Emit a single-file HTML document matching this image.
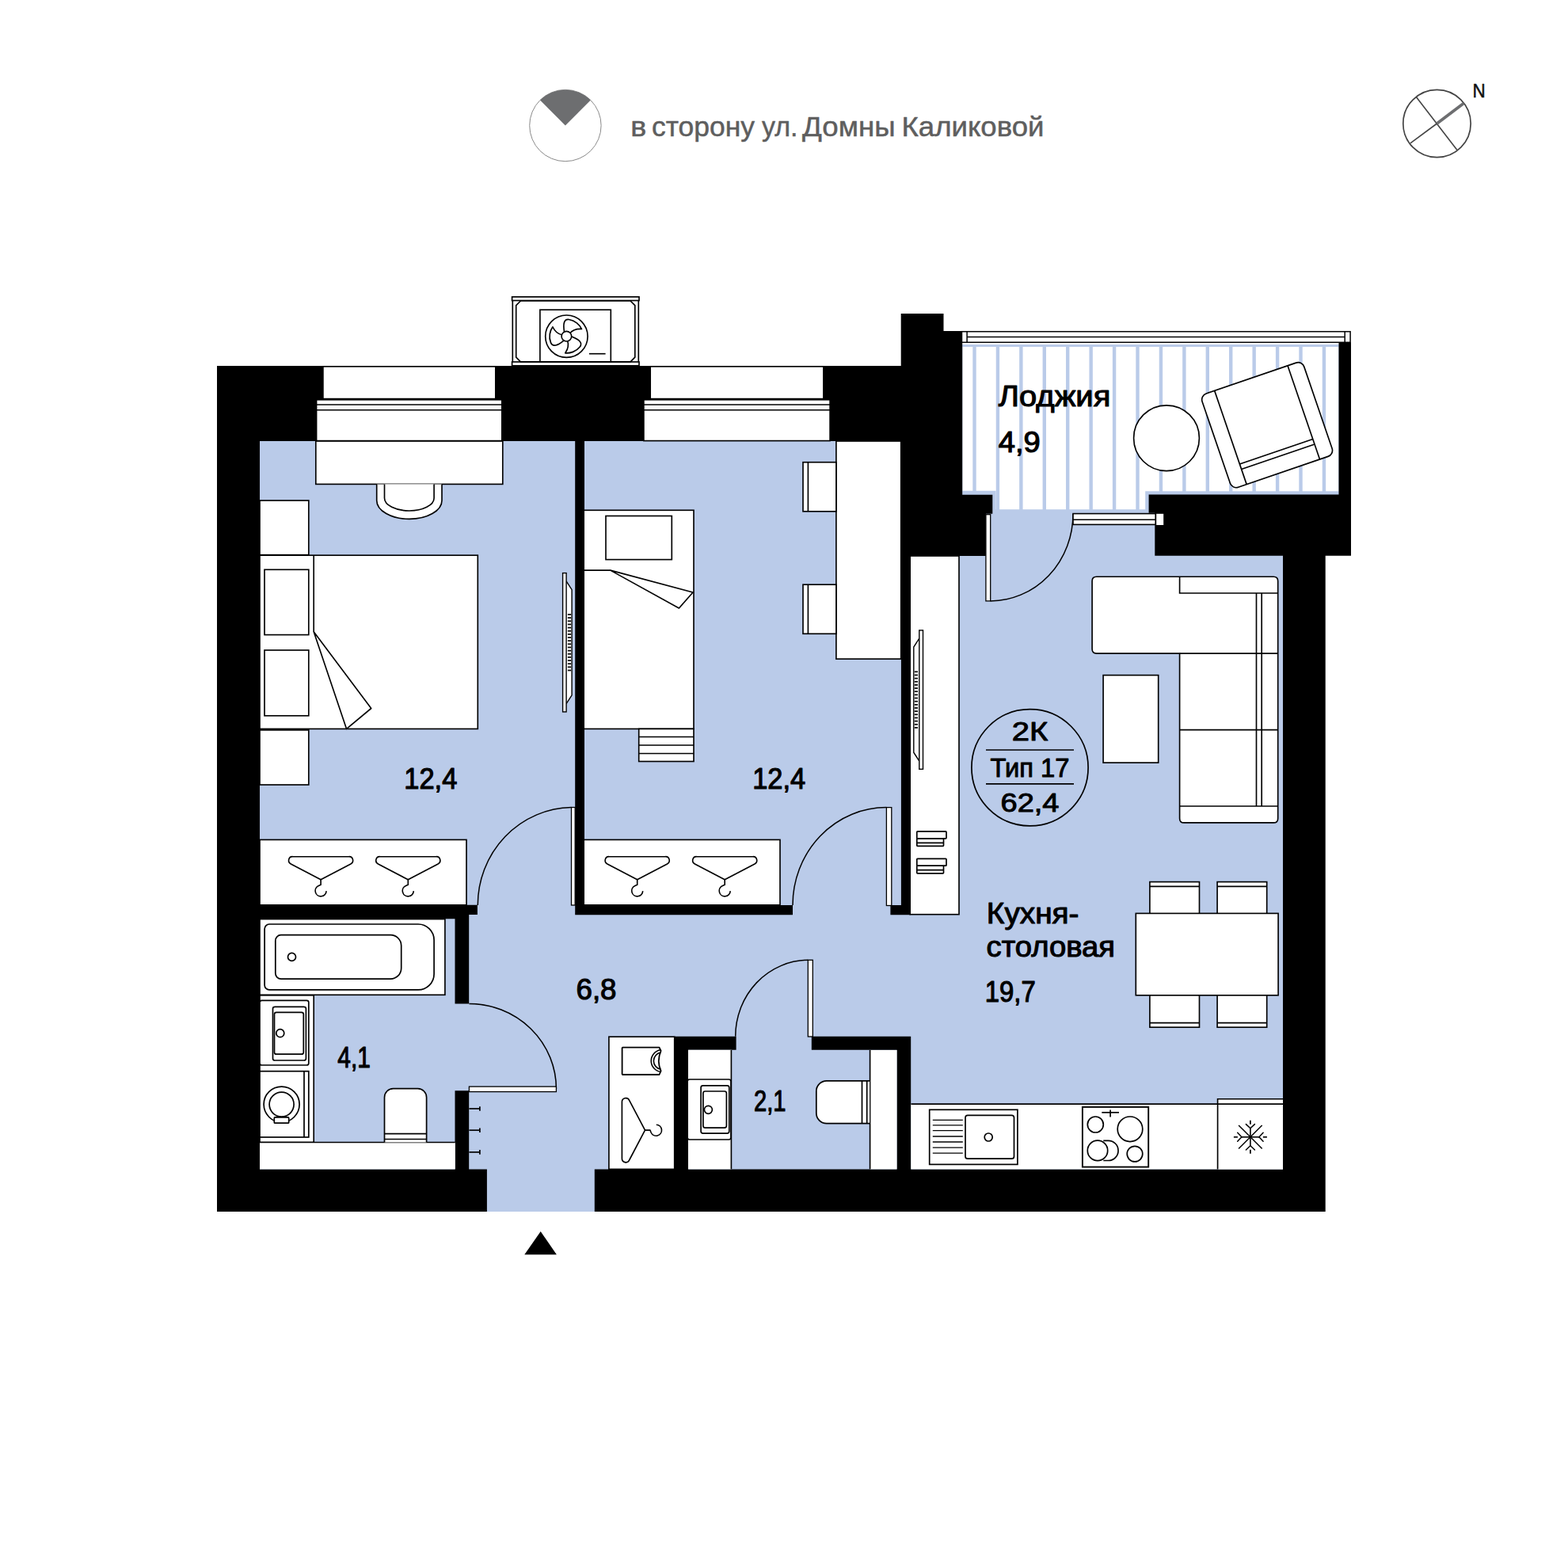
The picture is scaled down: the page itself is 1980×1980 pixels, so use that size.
<!DOCTYPE html>
<html lang="ru">
<head>
<meta charset="utf-8">
<title>Планировка 2К — Тип 17</title>
<style>
html,body{margin:0;padding:0;background:#fff;}
body{width:1980px;height:1980px;overflow:hidden;font-family:"Liberation Sans",sans-serif;}
svg{display:block;font-family:"Liberation Sans",sans-serif;}
</style>
</head>
<body>
<svg width="1980" height="1980" viewBox="0 0 1980 1980">
<!-- header: view direction -->
<circle cx="713.90" cy="158.50" r="45.20" fill="#fff" stroke="#8a8a8a" stroke-width="1"/>
<path d="M713.9,158.5 L682,126.6 A45.2,45.2 0 0 1 745.8,126.6 Z" fill="#6d6e70"/>
<text y="172.2" font-size="35" fill="#5e5e5e" stroke="#5e5e5e" stroke-width="0.5" stroke-linejoin="round" xml:space="preserve"><tspan x="796.2" textLength="20" lengthAdjust="spacingAndGlyphs">в</tspan><tspan x="816.2"> </tspan><tspan x="823" textLength="130" lengthAdjust="spacingAndGlyphs">сторону</tspan><tspan x="953"> </tspan><tspan x="962" textLength="45.5" lengthAdjust="spacingAndGlyphs">ул.</tspan><tspan x="1005"> </tspan><tspan x="1013" textLength="117.5" lengthAdjust="spacingAndGlyphs">Домны</tspan><tspan x="1131"> </tspan><tspan x="1138.5" textLength="180" lengthAdjust="spacingAndGlyphs">Каликовой</tspan></text>
<!-- compass -->
<circle cx="1814.50" cy="156.00" r="42.70" fill="#fff" stroke="#444" stroke-width="1.7"/>
<line x1="1788.60" y1="122.70" x2="1839.80" y2="189.30" stroke="#444" stroke-width="1.6"/>
<line x1="1780.90" y1="180.90" x2="1814.50" y2="156.00" stroke="#444" stroke-width="1.6"/>
<line x1="1814.50" y1="156.00" x2="1848.20" y2="130.50" stroke="#6d6e70" stroke-width="3.8"/>
<text x="1859.40" y="123.30" font-size="24" fill="#111" text-anchor="start" font-weight="normal" textLength="16.2" lengthAdjust="spacingAndGlyphs" stroke="#111" stroke-width="0.5" stroke-linejoin="round">N</text>
<!-- floor -->
<path d="M326,555 H1622 V1478 H753 V1530 H613 V1478 H326 Z" fill="#bacbe9"/>
<rect x="1245.00" y="640.00" width="215.00" height="65.00" fill="#bacbe9"/>
<!-- loggia -->
<path d="M1214,434.9 H1692 V626 H1452 V648.7 H1252 V626 H1214 Z" fill="#bacbe9"/>
<clipPath id="lg"><path d="M1215.2,437.9 H1690.5 V620.2 H1446.2 V643.2 H1257.6 V619.8 H1215.2 Z"/></clipPath>
<g clip-path="url(#lg)">
<rect x="1215.20" y="430.00" width="13.10" height="225.00" fill="#fff"/>
<rect x="1232.70" y="430.00" width="25.03" height="225.00" fill="#fff"/>
<rect x="1262.13" y="430.00" width="25.03" height="225.00" fill="#fff"/>
<rect x="1291.56" y="430.00" width="25.03" height="225.00" fill="#fff"/>
<rect x="1320.99" y="430.00" width="25.03" height="225.00" fill="#fff"/>
<rect x="1350.42" y="430.00" width="25.03" height="225.00" fill="#fff"/>
<rect x="1379.85" y="430.00" width="25.03" height="225.00" fill="#fff"/>
<rect x="1409.28" y="430.00" width="25.03" height="225.00" fill="#fff"/>
<rect x="1438.71" y="430.00" width="25.03" height="225.00" fill="#fff"/>
<rect x="1468.14" y="430.00" width="25.03" height="225.00" fill="#fff"/>
<rect x="1497.57" y="430.00" width="25.03" height="225.00" fill="#fff"/>
<rect x="1527.00" y="430.00" width="25.03" height="225.00" fill="#fff"/>
<rect x="1556.43" y="430.00" width="25.03" height="225.00" fill="#fff"/>
<rect x="1585.86" y="430.00" width="25.03" height="225.00" fill="#fff"/>
<rect x="1615.29" y="430.00" width="25.03" height="225.00" fill="#fff"/>
<rect x="1644.72" y="430.00" width="25.03" height="225.00" fill="#fff"/>
<rect x="1674.15" y="430.00" width="16.35" height="225.00" fill="#fff"/>
</g>
<!-- walls -->
<path d="M274.00,557.00 L274.00,1476.40 L274.00,1530.00 L328.00,1530.00 L614.90,1530.00 L614.90,1476.40 L592.20,1476.40 L592.20,1377.30 L574.50,1377.30 L574.50,1476.40 L328.00,1476.40 L328.00,1160.30 L574.50,1160.30 L574.50,1267.40 L592.20,1267.40 L592.20,1155.00 L591.70,1155.00 L591.70,1154.90 L602.90,1154.90 L602.90,1142.80 L591.70,1142.80 L328.00,1142.80 L328.00,557.00 L726.20,557.00 L726.20,1143.10 L726.20,1155.20 L738.00,1155.20 L1001.00,1155.20 L1001.00,1143.10 L738.00,1143.10 L738.00,557.00 L1137.70,557.00 L1137.70,702.00 L1137.90,702.00 L1137.90,1143.10 L1124.40,1143.10 L1124.40,1155.20 L1137.90,1155.20 L1149.80,1155.20 L1149.80,1143.10 L1149.80,702.00 L1215.00,702.00 L1215.20,702.00 L1244.90,702.00 L1244.90,648.80 L1253.30,648.80 L1253.30,624.80 L1215.20,624.80 L1215.20,418.00 L1191.50,418.00 L1191.50,396.00 L1137.70,396.00 L1137.70,418.00 L1137.70,420.00 L1137.70,462.00 L328.00,462.00 L274.00,462.00 Z  M851.80,1308.70 L851.80,1325.80 L851.80,1476.40 L750.80,1476.40 L750.80,1530.00 L1620.00,1530.00 L1673.70,1530.00 L1673.70,1476.40 L1673.70,701.80 L1690.50,701.80 L1706.00,701.80 L1706.00,624.50 L1706.00,432.30 L1690.50,432.30 L1690.50,624.50 L1450.60,624.50 L1450.60,647.80 L1458.30,647.80 L1458.30,701.80 L1620.00,701.80 L1620.00,1476.40 L1150.20,1476.40 L1150.20,1325.80 L1150.20,1308.70 L1132.50,1308.70 L1024.80,1308.70 L1024.80,1325.80 L1132.50,1325.80 L1132.50,1476.40 L869.20,1476.40 L869.20,1325.80 L929.60,1325.80 L929.60,1308.70 L869.20,1308.70 Z " fill="#000" fill-rule="evenodd"/>
<!-- windows -->
<rect x="407.90" y="462.80" width="217.90" height="40.80" fill="#fff" stroke="#000" stroke-width="1.65"/>
<rect x="399.60" y="504.80" width="234.20" height="51.80" fill="#fff" stroke="#000" stroke-width="1.65"/>
<line x1="399.60" y1="511.00" x2="633.80" y2="511.00" stroke="#000" stroke-width="1.65"/>
<line x1="399.60" y1="517.70" x2="633.80" y2="517.70" stroke="#000" stroke-width="1.65"/>
<rect x="821.20" y="462.80" width="218.70" height="40.80" fill="#fff" stroke="#000" stroke-width="1.65"/>
<rect x="812.90" y="504.80" width="235.20" height="51.80" fill="#fff" stroke="#000" stroke-width="1.65"/>
<line x1="812.90" y1="511.00" x2="1048.10" y2="511.00" stroke="#000" stroke-width="1.65"/>
<line x1="812.90" y1="517.70" x2="1048.10" y2="517.70" stroke="#000" stroke-width="1.65"/>
<!-- air conditioner -->
<rect x="647.30" y="374.90" width="159.00" height="86.60" fill="#fff" stroke="#000" stroke-width="1.65"/>
<rect x="646.60" y="374.90" width="160.40" height="4.60" fill="#fff" stroke="#000" stroke-width="1.65"/>
<rect x="646.60" y="457.00" width="160.40" height="4.80" fill="#fff" stroke="#000" stroke-width="1.65"/>
<path d="M657.4,380 H796.1 L801.8,385.7 V451.1 L796.1,456.8 H657.4 L651.7,451.1 V385.7 Z" fill="#fff" stroke="#000" stroke-width="1.65"/>
<rect x="681.90" y="391.20" width="89.40" height="65.60" fill="#fff" stroke="#000" stroke-width="1.65"/>
<circle cx="715.40" cy="424.70" r="26.70" fill="#fff" stroke="#000" stroke-width="1.65"/>
<path transform="rotate(0 715.4 424.7)" d="M712.5,419 C711,409 712,402.5 718.5,403.5 C726,404.5 732,410 734.5,415.5 C728,415 722.5,417.5 719.5,421" fill="none" stroke="#000" stroke-width="1.65" stroke-linejoin="round"/>
<path transform="rotate(120 715.4 424.7)" d="M712.5,419 C711,409 712,402.5 718.5,403.5 C726,404.5 732,410 734.5,415.5 C728,415 722.5,417.5 719.5,421" fill="none" stroke="#000" stroke-width="1.65" stroke-linejoin="round"/>
<path transform="rotate(240 715.4 424.7)" d="M712.5,419 C711,409 712,402.5 718.5,403.5 C726,404.5 732,410 734.5,415.5 C728,415 722.5,417.5 719.5,421" fill="none" stroke="#000" stroke-width="1.65" stroke-linejoin="round"/>
<circle cx="715.40" cy="424.70" r="6.30" fill="#fff" stroke="#000" stroke-width="1.65"/>
<line x1="743.90" y1="446.70" x2="764.60" y2="446.70" stroke="#000" stroke-width="1.65"/>
<!-- bedroom 1 -->
<rect x="398.80" y="557.00" width="236.00" height="54.40" fill="#fff" stroke="#000" stroke-width="1.65"/>
<path d="M475.7,611.4 V632 A41.1,23.4 0 0 0 558,632 V611.4" fill="#fff" stroke="#000" stroke-width="1.65"/>
<path d="M485.5,611.4 V629 A31.3,16 0 0 0 548.1,629 V611.4" fill="#fff" stroke="#000" stroke-width="1.65"/>
<rect x="328.00" y="632.00" width="61.80" height="68.70" fill="#fff" stroke="#000" stroke-width="1.65"/>
<rect x="328.00" y="701.20" width="275.30" height="219.20" fill="#fff" stroke="#000" stroke-width="1.65"/>
<rect x="334.00" y="719.30" width="55.80" height="82.30" fill="#fff" stroke="#000" stroke-width="1.65"/>
<rect x="334.00" y="821.00" width="55.80" height="82.80" fill="#fff" stroke="#000" stroke-width="1.65"/>
<line x1="396.20" y1="701.20" x2="396.20" y2="797.70" stroke="#000" stroke-width="1.65"/>
<path d="M396.2,797.7 L468.7,894.5 L437.6,920.4 Z" fill="#fff" stroke="#000" stroke-width="1.65" stroke-linejoin="round"/>
<rect x="328.00" y="921.90" width="61.80" height="69.10" fill="#fff" stroke="#000" stroke-width="1.65"/>
<path d="M715.1,733.9 L722.1,744.7 V877.8 L715.1,888.6" fill="#fff" stroke="#000" stroke-width="1.4"/>
<line x1="721.10" y1="776.00" x2="716.90" y2="776.00" stroke="#000" stroke-width="1.7"/>
<line x1="721.10" y1="780.15" x2="716.90" y2="780.15" stroke="#000" stroke-width="1.7"/>
<line x1="721.10" y1="784.29" x2="716.90" y2="784.29" stroke="#000" stroke-width="1.7"/>
<line x1="721.10" y1="788.44" x2="716.90" y2="788.44" stroke="#000" stroke-width="1.7"/>
<line x1="721.10" y1="792.59" x2="716.90" y2="792.59" stroke="#000" stroke-width="1.7"/>
<line x1="721.10" y1="796.74" x2="716.90" y2="796.74" stroke="#000" stroke-width="1.7"/>
<line x1="721.10" y1="800.88" x2="716.90" y2="800.88" stroke="#000" stroke-width="1.7"/>
<line x1="721.10" y1="805.03" x2="716.90" y2="805.03" stroke="#000" stroke-width="1.7"/>
<line x1="721.10" y1="809.18" x2="716.90" y2="809.18" stroke="#000" stroke-width="1.7"/>
<line x1="721.10" y1="813.32" x2="716.90" y2="813.32" stroke="#000" stroke-width="1.7"/>
<line x1="721.10" y1="817.47" x2="716.90" y2="817.47" stroke="#000" stroke-width="1.7"/>
<line x1="721.10" y1="821.62" x2="716.90" y2="821.62" stroke="#000" stroke-width="1.7"/>
<line x1="721.10" y1="825.76" x2="716.90" y2="825.76" stroke="#000" stroke-width="1.7"/>
<line x1="721.10" y1="829.91" x2="716.90" y2="829.91" stroke="#000" stroke-width="1.7"/>
<line x1="721.10" y1="834.06" x2="716.90" y2="834.06" stroke="#000" stroke-width="1.7"/>
<line x1="721.10" y1="838.21" x2="716.90" y2="838.21" stroke="#000" stroke-width="1.7"/>
<line x1="721.10" y1="842.35" x2="716.90" y2="842.35" stroke="#000" stroke-width="1.7"/>
<line x1="721.10" y1="846.50" x2="716.90" y2="846.50" stroke="#000" stroke-width="1.7"/>
<rect x="710.60" y="723.60" width="4.50" height="175.30" fill="#fff" stroke="#000" stroke-width="1.4"/>
<rect x="328.00" y="1060.40" width="261.00" height="82.40" fill="#fff" stroke="#000" stroke-width="1.65"/>
<g transform="translate(405.1 1110.8) rotate(0)" fill="none" stroke="#000" stroke-width="1.65" stroke-linejoin="round">
<path d="M0,0 L-37.8,-19.9 A4.84,4.84 0 0 1 -35.6,-29.1 H35.6 A4.84,4.84 0 0 1 37.8,-19.9 Z"/>
<path d="M0,0 V6.5 L-2.8,7.6 A7,7 0 1 0 7,14.3"/>
</g>
<g transform="translate(515.3 1110.8) rotate(0)" fill="none" stroke="#000" stroke-width="1.65" stroke-linejoin="round">
<path d="M0,0 L-37.8,-19.9 A4.84,4.84 0 0 1 -35.6,-29.1 H35.6 A4.84,4.84 0 0 1 37.8,-19.9 Z"/>
<path d="M0,0 V6.5 L-2.8,7.6 A7,7 0 1 0 7,14.3"/>
</g>
<path d="M603.3,1143 A120.5,123.5 0 0 1 721.5,1019.5" fill="none" stroke="#000" stroke-width="1.5"/>
<rect x="721.50" y="1019.50" width="4.70" height="123.50" fill="#fff" stroke="#000" stroke-width="1.3"/>
<text x="510.30" y="996.20" font-size="37" fill="#000" text-anchor="start" font-weight="normal" textLength="67" lengthAdjust="spacingAndGlyphs" stroke="#000" stroke-width="1.2" stroke-linejoin="round">12,4</text>
<!-- bedroom 2 -->
<rect x="737.20" y="644.30" width="138.80" height="276.10" fill="#fff" stroke="#000" stroke-width="1.65"/>
<rect x="765.00" y="651.50" width="83.30" height="55.10" fill="#fff" stroke="#000" stroke-width="1.65"/>
<line x1="737.20" y1="720.10" x2="770.70" y2="720.10" stroke="#000" stroke-width="1.65"/>
<path d="M770.7,720.1 L875,748 L857.4,768 Z" fill="#fff" stroke="#000" stroke-width="1.65" stroke-linejoin="round"/>
<rect x="806.70" y="920.40" width="69.30" height="41.10" fill="#fff" stroke="#000" stroke-width="1.65"/>
<line x1="806.70" y1="930.50" x2="876.00" y2="930.50" stroke="#000" stroke-width="1.65"/>
<line x1="806.70" y1="941.00" x2="876.00" y2="941.00" stroke="#000" stroke-width="1.65"/>
<line x1="806.70" y1="951.50" x2="876.00" y2="951.50" stroke="#000" stroke-width="1.65"/>
<rect x="1055.90" y="557.00" width="81.80" height="275.10" fill="#fff" stroke="#000" stroke-width="1.65"/>
<rect x="1014.00" y="583.70" width="41.90" height="62.10" fill="#fff" stroke="#000" stroke-width="1.65"/>
<line x1="1020.40" y1="583.70" x2="1020.40" y2="645.80" stroke="#000" stroke-width="1.65"/>
<rect x="1014.00" y="738.20" width="41.90" height="62.10" fill="#fff" stroke="#000" stroke-width="1.65"/>
<line x1="1020.40" y1="738.20" x2="1020.40" y2="800.30" stroke="#000" stroke-width="1.65"/>
<rect x="737.20" y="1060.40" width="247.80" height="82.40" fill="#fff" stroke="#000" stroke-width="1.65"/>
<g transform="translate(804.7 1110.8) rotate(0)" fill="none" stroke="#000" stroke-width="1.65" stroke-linejoin="round">
<path d="M0,0 L-37.8,-19.9 A4.84,4.84 0 0 1 -35.6,-29.1 H35.6 A4.84,4.84 0 0 1 37.8,-19.9 Z"/>
<path d="M0,0 V6.5 L-2.8,7.6 A7,7 0 1 0 7,14.3"/>
</g>
<g transform="translate(915.2 1110.8) rotate(0)" fill="none" stroke="#000" stroke-width="1.65" stroke-linejoin="round">
<path d="M0,0 L-37.8,-19.9 A4.84,4.84 0 0 1 -35.6,-29.1 H35.6 A4.84,4.84 0 0 1 37.8,-19.9 Z"/>
<path d="M0,0 V6.5 L-2.8,7.6 A7,7 0 1 0 7,14.3"/>
</g>
<path d="M1001,1143 A118.4,123.5 0 0 1 1119.4,1019.6" fill="none" stroke="#000" stroke-width="1.5"/>
<rect x="1119.40" y="1019.60" width="6.40" height="123.90" fill="#fff" stroke="#000" stroke-width="1.3"/>
<text x="950.20" y="996.20" font-size="37" fill="#000" text-anchor="start" font-weight="normal" textLength="67" lengthAdjust="spacingAndGlyphs" stroke="#000" stroke-width="1.2" stroke-linejoin="round">12,4</text>
<!-- kitchen-living -->
<rect x="1149.20" y="702.00" width="61.80" height="452.70" fill="#fff" stroke="#000" stroke-width="1.65"/>
<path d="M1160.8,806.1999999999999 L1153.8,817.0 V950.1999999999999 L1160.8,961.0" fill="#fff" stroke="#000" stroke-width="1.4"/>
<line x1="1154.80" y1="848.30" x2="1159.00" y2="848.30" stroke="#000" stroke-width="1.7"/>
<line x1="1154.80" y1="852.45" x2="1159.00" y2="852.45" stroke="#000" stroke-width="1.7"/>
<line x1="1154.80" y1="856.61" x2="1159.00" y2="856.61" stroke="#000" stroke-width="1.7"/>
<line x1="1154.80" y1="860.76" x2="1159.00" y2="860.76" stroke="#000" stroke-width="1.7"/>
<line x1="1154.80" y1="864.91" x2="1159.00" y2="864.91" stroke="#000" stroke-width="1.7"/>
<line x1="1154.80" y1="869.06" x2="1159.00" y2="869.06" stroke="#000" stroke-width="1.7"/>
<line x1="1154.80" y1="873.22" x2="1159.00" y2="873.22" stroke="#000" stroke-width="1.7"/>
<line x1="1154.80" y1="877.37" x2="1159.00" y2="877.37" stroke="#000" stroke-width="1.7"/>
<line x1="1154.80" y1="881.52" x2="1159.00" y2="881.52" stroke="#000" stroke-width="1.7"/>
<line x1="1154.80" y1="885.68" x2="1159.00" y2="885.68" stroke="#000" stroke-width="1.7"/>
<line x1="1154.80" y1="889.83" x2="1159.00" y2="889.83" stroke="#000" stroke-width="1.7"/>
<line x1="1154.80" y1="893.98" x2="1159.00" y2="893.98" stroke="#000" stroke-width="1.7"/>
<line x1="1154.80" y1="898.14" x2="1159.00" y2="898.14" stroke="#000" stroke-width="1.7"/>
<line x1="1154.80" y1="902.29" x2="1159.00" y2="902.29" stroke="#000" stroke-width="1.7"/>
<line x1="1154.80" y1="906.44" x2="1159.00" y2="906.44" stroke="#000" stroke-width="1.7"/>
<line x1="1154.80" y1="910.59" x2="1159.00" y2="910.59" stroke="#000" stroke-width="1.7"/>
<line x1="1154.80" y1="914.75" x2="1159.00" y2="914.75" stroke="#000" stroke-width="1.7"/>
<line x1="1154.80" y1="918.90" x2="1159.00" y2="918.90" stroke="#000" stroke-width="1.7"/>
<rect x="1160.80" y="795.90" width="4.70" height="175.40" fill="#fff" stroke="#000" stroke-width="1.4"/>
<rect x="1157.80" y="1058.70" width="33.70" height="9.70" rx="0.8" fill="#fff" stroke="#000" stroke-width="1.7"/>
<line x1="1157.80" y1="1064.30" x2="1191.50" y2="1064.30" stroke="#000" stroke-width="1.7"/>
<rect x="1157.80" y="1049.90" width="37.20" height="8.90" rx="0.8" fill="#fff" stroke="#000" stroke-width="1.7"/>
<rect x="1157.80" y="1093.10" width="33.70" height="9.70" rx="0.8" fill="#fff" stroke="#000" stroke-width="1.7"/>
<line x1="1157.80" y1="1098.70" x2="1191.50" y2="1098.70" stroke="#000" stroke-width="1.7"/>
<rect x="1157.80" y="1084.30" width="37.20" height="8.90" rx="0.8" fill="#fff" stroke="#000" stroke-width="1.7"/>
<path d="M1250.5,758.9 A104.5,110 0 0 0 1355,648.9" fill="none" stroke="#000" stroke-width="1.5"/>
<rect x="1244.90" y="649.70" width="5.80" height="109.20" fill="#fff" stroke="#000" stroke-width="1.3"/>
<rect x="1355.00" y="648.60" width="104.20" height="13.80" fill="#fff" stroke="#000" stroke-width="1.6"/>
<line x1="1355.00" y1="656.20" x2="1459.20" y2="656.20" stroke="#000" stroke-width="1.6"/>
<rect x="1460.20" y="648.80" width="9.00" height="14.20" fill="#fff"/>
<path d="M1384.6,728.2 H1608.2 Q1613.7,728.2 1613.7,733.7 V1033.4 Q1613.7,1038.9 1608.2,1038.9 H1495.1 Q1489.6,1038.9 1489.6,1033.4 V825.1 H1384.6 Q1379.1,825.1 1379.1,819.6 V733.7 Q1379.1,728.2 1384.6,728.2 Z" fill="#fff" stroke="#000" stroke-width="1.65"/>
<path d="M1489.6,728.2 V749 H1613.7" fill="none" stroke="#000" stroke-width="1.65"/>
<line x1="1586.50" y1="749.00" x2="1586.50" y2="1018.00" stroke="#000" stroke-width="1.65"/>
<line x1="1593.20" y1="749.00" x2="1593.20" y2="1018.00" stroke="#000" stroke-width="1.65"/>
<line x1="1489.60" y1="825.10" x2="1613.70" y2="825.10" stroke="#000" stroke-width="1.65"/>
<line x1="1489.60" y1="921.60" x2="1613.70" y2="921.60" stroke="#000" stroke-width="1.65"/>
<line x1="1489.60" y1="1018.00" x2="1613.70" y2="1018.00" stroke="#000" stroke-width="1.65"/>
<rect x="1393.10" y="852.60" width="69.60" height="110.50" fill="#fff" stroke="#000" stroke-width="1.65"/>
<circle cx="1300.50" cy="969.30" r="73.60" fill="none" stroke="#000" stroke-width="1.7"/>
<line x1="1245.00" y1="947.00" x2="1356.00" y2="947.00" stroke="#000" stroke-width="1.7"/>
<line x1="1245.00" y1="989.80" x2="1356.00" y2="989.80" stroke="#000" stroke-width="1.7"/>
<text x="1300.50" y="935.40" font-size="34" fill="#000" text-anchor="middle" font-weight="normal" textLength="45.5" lengthAdjust="spacingAndGlyphs" stroke="#000" stroke-width="1.0" stroke-linejoin="round">2К</text>
<text x="1300.50" y="980.70" font-size="34" fill="#000" text-anchor="middle" font-weight="normal" textLength="100" lengthAdjust="spacingAndGlyphs" stroke="#000" stroke-width="1.0" stroke-linejoin="round">Тип 17</text>
<text x="1300.50" y="1024.70" font-size="34" fill="#000" text-anchor="middle" font-weight="normal" textLength="74" lengthAdjust="spacingAndGlyphs" stroke="#000" stroke-width="1.0" stroke-linejoin="round">62,4</text>
<rect x="1451.90" y="1113.60" width="62.60" height="46.40" fill="#fff" stroke="#000" stroke-width="1.65"/>
<line x1="1451.90" y1="1119.30" x2="1514.50" y2="1119.30" stroke="#000" stroke-width="1.65"/>
<rect x="1451.90" y="1250.00" width="62.60" height="47.20" fill="#fff" stroke="#000" stroke-width="1.65"/>
<line x1="1451.90" y1="1291.60" x2="1514.50" y2="1291.60" stroke="#000" stroke-width="1.65"/>
<rect x="1537.10" y="1113.60" width="62.60" height="46.40" fill="#fff" stroke="#000" stroke-width="1.65"/>
<line x1="1537.10" y1="1119.30" x2="1599.70" y2="1119.30" stroke="#000" stroke-width="1.65"/>
<rect x="1537.10" y="1250.00" width="62.60" height="47.20" fill="#fff" stroke="#000" stroke-width="1.65"/>
<line x1="1537.10" y1="1291.60" x2="1599.70" y2="1291.60" stroke="#000" stroke-width="1.65"/>
<rect x="1434.30" y="1153.40" width="179.80" height="103.40" fill="#fff" stroke="#000" stroke-width="1.65"/>
<text x="1245.80" y="1165.50" font-size="37" fill="#000" text-anchor="start" font-weight="normal" textLength="116.7" lengthAdjust="spacingAndGlyphs" stroke="#000" stroke-width="1.1" stroke-linejoin="round">Кухня-</text>
<text x="1245.60" y="1208.10" font-size="37" fill="#000" text-anchor="start" font-weight="normal" textLength="162.4" lengthAdjust="spacingAndGlyphs" stroke="#000" stroke-width="1.1" stroke-linejoin="round">столовая</text>
<text x="1243.80" y="1265.00" font-size="37" fill="#000" text-anchor="start" font-weight="normal" textLength="64" lengthAdjust="spacingAndGlyphs" stroke="#000" stroke-width="1.2" stroke-linejoin="round">19,7</text>
<rect x="1150.40" y="1394.10" width="469.60" height="82.30" fill="#fff"/>
<line x1="1150.40" y1="1394.10" x2="1537.80" y2="1394.10" stroke="#000" stroke-width="1.65"/>
<rect x="1173.70" y="1401.30" width="111.20" height="69.10" fill="#fff" stroke="#000" stroke-width="1.7"/>
<line x1="1177.80" y1="1414.30" x2="1215.80" y2="1414.30" stroke="#000" stroke-width="1.3"/>
<line x1="1177.80" y1="1420.80" x2="1215.80" y2="1420.80" stroke="#000" stroke-width="1.3"/>
<line x1="1177.80" y1="1427.70" x2="1215.80" y2="1427.70" stroke="#000" stroke-width="1.3"/>
<line x1="1177.80" y1="1435.00" x2="1215.80" y2="1435.00" stroke="#000" stroke-width="1.3"/>
<line x1="1177.80" y1="1442.00" x2="1215.80" y2="1442.00" stroke="#000" stroke-width="1.3"/>
<line x1="1177.80" y1="1449.20" x2="1215.80" y2="1449.20" stroke="#000" stroke-width="1.3"/>
<line x1="1177.80" y1="1456.20" x2="1215.80" y2="1456.20" stroke="#000" stroke-width="1.3"/>
<rect x="1219.00" y="1408.30" width="61.50" height="54.90" rx="3" fill="#fff" stroke="#000" stroke-width="1.7"/>
<circle cx="1248.20" cy="1436.00" r="5.00" fill="#fff" stroke="#000" stroke-width="1.7"/>
<rect x="1366.90" y="1397.90" width="83.30" height="75.70" fill="#fff" stroke="#000" stroke-width="1.9"/>
<circle cx="1383.30" cy="1420.00" r="10.00" fill="none" stroke="#000" stroke-width="1.7"/>
<circle cx="1427.00" cy="1425.80" r="15.80" fill="none" stroke="#000" stroke-width="1.7"/>
<path d="M1393.3,1440.3 H1399.5 A12.6,12.6 0 0 1 1399.5,1465.5 H1393.3" fill="none" stroke="#000" stroke-width="1.7"/>
<circle cx="1386.00" cy="1452.90" r="12.70" fill="#fff" stroke="#000" stroke-width="1.7"/>
<circle cx="1433.00" cy="1457.10" r="9.80" fill="none" stroke="#000" stroke-width="1.7"/>
<line x1="1391.30" y1="1404.80" x2="1413.00" y2="1404.80" stroke="#000" stroke-width="1.7"/>
<line x1="1402.10" y1="1401.60" x2="1402.10" y2="1410.60" stroke="#000" stroke-width="1.7"/>
<rect x="1537.60" y="1387.70" width="82.40" height="88.70" fill="#fff"/>
<path d="M1620,1387.7 H1537.6 V1476.4" fill="none" stroke="#000" stroke-width="1.65"/>
<line x1="1537.60" y1="1394.10" x2="1620.00" y2="1394.10" stroke="#000" stroke-width="1.65"/>
<line x1="1578.90" y1="1435.80" x2="1590.10" y2="1435.80" stroke="#000" stroke-width="1.6"/>
<line x1="1594.90" y1="1435.80" x2="1599.90" y2="1435.80" stroke="#000" stroke-width="1.7"/>
<line x1="1589.90" y1="1435.80" x2="1595.10" y2="1430.30" stroke="#000" stroke-width="1.5" stroke-linecap="round"/>
<line x1="1589.90" y1="1435.80" x2="1595.10" y2="1441.30" stroke="#000" stroke-width="1.5" stroke-linecap="round"/>
<line x1="1578.90" y1="1435.80" x2="1593.68" y2="1450.58" stroke="#000" stroke-width="1.5"/>
<line x1="1578.90" y1="1435.80" x2="1578.90" y2="1447.00" stroke="#000" stroke-width="1.6"/>
<line x1="1578.90" y1="1451.80" x2="1578.90" y2="1456.80" stroke="#000" stroke-width="1.7"/>
<line x1="1578.90" y1="1446.80" x2="1584.40" y2="1452.00" stroke="#000" stroke-width="1.5" stroke-linecap="round"/>
<line x1="1578.90" y1="1446.80" x2="1573.40" y2="1452.00" stroke="#000" stroke-width="1.5" stroke-linecap="round"/>
<line x1="1578.90" y1="1435.80" x2="1564.12" y2="1450.58" stroke="#000" stroke-width="1.5"/>
<line x1="1578.90" y1="1435.80" x2="1567.70" y2="1435.80" stroke="#000" stroke-width="1.6"/>
<line x1="1562.90" y1="1435.80" x2="1557.90" y2="1435.80" stroke="#000" stroke-width="1.7"/>
<line x1="1567.90" y1="1435.80" x2="1562.70" y2="1441.30" stroke="#000" stroke-width="1.5" stroke-linecap="round"/>
<line x1="1567.90" y1="1435.80" x2="1562.70" y2="1430.30" stroke="#000" stroke-width="1.5" stroke-linecap="round"/>
<line x1="1578.90" y1="1435.80" x2="1564.12" y2="1421.02" stroke="#000" stroke-width="1.5"/>
<line x1="1578.90" y1="1435.80" x2="1578.90" y2="1424.60" stroke="#000" stroke-width="1.6"/>
<line x1="1578.90" y1="1419.80" x2="1578.90" y2="1414.80" stroke="#000" stroke-width="1.7"/>
<line x1="1578.90" y1="1424.80" x2="1573.40" y2="1419.60" stroke="#000" stroke-width="1.5" stroke-linecap="round"/>
<line x1="1578.90" y1="1424.80" x2="1584.40" y2="1419.60" stroke="#000" stroke-width="1.5" stroke-linecap="round"/>
<line x1="1578.90" y1="1435.80" x2="1593.68" y2="1421.02" stroke="#000" stroke-width="1.5"/>
<!-- bathroom -->
<rect x="328.00" y="1160.60" width="233.90" height="95.70" fill="#fff" stroke="#000" stroke-width="1.65"/>
<path d="M340,1167 H528 A20,20 0 0 1 548.1,1187 V1230 A20,20 0 0 1 528,1249.9 H340 A6,6 0 0 1 334.1,1244 V1173 A6,6 0 0 1 340,1167 Z" fill="#fff" stroke="#000" stroke-width="1.7"/>
<path d="M355,1180.7 H493 A13.5,13.5 0 0 1 506.7,1194 V1222.5 A13.5,13.5 0 0 1 493,1236.1 H355 A7,7 0 0 1 347.8,1229 V1188 A7,7 0 0 1 355,1180.7 Z" fill="#fff" stroke="#000" stroke-width="1.7"/>
<circle cx="368.50" cy="1208.40" r="5.00" fill="#fff" stroke="#000" stroke-width="1.7"/>
<rect x="328.00" y="1256.80" width="68.20" height="185.70" fill="#fff" stroke="#000" stroke-width="1.65"/>
<rect x="328.00" y="1263.30" width="61.80" height="81.70" rx="2.5" fill="#fff" stroke="#000" stroke-width="1.7"/>
<rect x="344.50" y="1271.30" width="41.90" height="67.70" rx="2.5" fill="#fff" stroke="#000" stroke-width="1.7"/>
<rect x="346.50" y="1278.30" width="36.80" height="52.90" rx="2.5" fill="#fff" stroke="#000" stroke-width="1.7"/>
<circle cx="353.80" cy="1304.70" r="5.00" fill="#fff" stroke="#000" stroke-width="1.7"/>
<rect x="328.00" y="1352.70" width="61.80" height="83.30" fill="#fff" stroke="#000" stroke-width="1.7"/>
<line x1="384.00" y1="1352.70" x2="384.00" y2="1436.00" stroke="#000" stroke-width="1.7"/>
<circle cx="355.60" cy="1394.60" r="22.50" fill="#fff" stroke="#000" stroke-width="1.7"/>
<circle cx="355.60" cy="1394.60" r="15.50" fill="#fff" stroke="#000" stroke-width="1.7"/>
<rect x="346.30" y="1410.90" width="18.40" height="7.30" rx="1" fill="#fff" stroke="#000" stroke-width="1.7"/>
<rect x="328.00" y="1442.50" width="246.80" height="33.90" fill="#fff"/>
<line x1="328.00" y1="1442.50" x2="574.80" y2="1442.50" stroke="#000" stroke-width="1.65"/>
<path d="M485.5,1442.5 V1386 A11,11 0 0 1 496.5,1374.7 H527.5 A11,11 0 0 1 538.6,1386 V1442.5" fill="#fff" stroke="#000" stroke-width="1.7"/>
<line x1="485.50" y1="1431.60" x2="538.60" y2="1431.60" stroke="#000" stroke-width="1.7"/>
<line x1="485.50" y1="1438.50" x2="538.60" y2="1438.50" stroke="#000" stroke-width="1.7"/>
<text x="426.30" y="1348.00" font-size="37" fill="#000" text-anchor="start" font-weight="normal" textLength="41.5" lengthAdjust="spacingAndGlyphs" stroke="#000" stroke-width="1.2" stroke-linejoin="round">4,1</text>
<path d="M592.4,1267.4 A110,107.5 0 0 1 702.4,1375" fill="none" stroke="#000" stroke-width="1.5"/>
<rect x="592.40" y="1372.10" width="110.00" height="6.50" fill="#fff" stroke="#000" stroke-width="1.3"/>
<line x1="592.40" y1="1400.00" x2="605.90" y2="1400.00" stroke="#000" stroke-width="1.7"/>
<line x1="605.90" y1="1397.20" x2="605.90" y2="1402.80" stroke="#000" stroke-width="1.7"/>
<line x1="592.40" y1="1427.20" x2="605.90" y2="1427.20" stroke="#000" stroke-width="1.7"/>
<line x1="605.90" y1="1424.40" x2="605.90" y2="1430.00" stroke="#000" stroke-width="1.7"/>
<line x1="592.40" y1="1454.90" x2="605.90" y2="1454.90" stroke="#000" stroke-width="1.7"/>
<line x1="605.90" y1="1452.10" x2="605.90" y2="1457.70" stroke="#000" stroke-width="1.7"/>
<text x="727.50" y="1262.20" font-size="37" fill="#000" text-anchor="start" font-weight="normal" textLength="51" lengthAdjust="spacingAndGlyphs" stroke="#000" stroke-width="1.2" stroke-linejoin="round">6,8</text>
<!-- hall closet -->
<rect x="768.90" y="1309.20" width="82.80" height="167.20" fill="#fff" stroke="#000" stroke-width="1.65"/>
<path d="M832.5,1322.6 H786.4 Q785.6,1322.6 785.6,1323.4 V1356.2 Q785.6,1357 786.4,1357 H832.5 L834.6,1352.4 Q829,1339.6 834.6,1327 Z" fill="#fff" stroke="#000" stroke-width="1.8" stroke-linejoin="round"/>
<path d="M834.2,1325.8 A14,14 0 0 0 834.2,1353.5" fill="none" stroke="#000" stroke-width="1.6"/>
<path d="M834.4,1329 A10.8,10.8 0 0 0 834.4,1350.3" fill="none" stroke="#000" stroke-width="1.6"/>
<g transform="translate(814.5 1427.2) rotate(-90)" fill="none" stroke="#000" stroke-width="1.65" stroke-linejoin="round">
<path d="M0,0 L-37.8,-19.9 A4.84,4.84 0 0 1 -35.6,-29.1 H35.6 A4.84,4.84 0 0 1 37.8,-19.9 Z"/>
<path d="M0,0 V6.5 L-2.8,7.6 A7,7 0 1 0 7,14.3"/>
</g>
<!-- wc -->
<rect x="869.00" y="1325.80" width="54.40" height="150.60" fill="#fff"/>
<line x1="923.40" y1="1326.00" x2="923.40" y2="1476.40" stroke="#000" stroke-width="1.65"/>
<rect x="868.20" y="1363.00" width="54.70" height="76.00" rx="2.5" fill="#fff" stroke="#000" stroke-width="1.6"/>
<rect x="885.10" y="1370.80" width="35.70" height="60.30" rx="2.5" fill="#fff" stroke="#000" stroke-width="1.7"/>
<rect x="887.90" y="1378.00" width="29.50" height="46.10" rx="2.5" fill="#fff" stroke="#000" stroke-width="1.7"/>
<circle cx="894.40" cy="1401.30" r="5.00" fill="#fff" stroke="#000" stroke-width="1.7"/>
<rect x="1098.60" y="1326.00" width="33.90" height="150.40" fill="#fff"/>
<line x1="1098.60" y1="1326.00" x2="1098.60" y2="1476.40" stroke="#000" stroke-width="1.65"/>
<path d="M1098.1,1364.9 H1044 A13,13 0 0 0 1030.8,1378 V1405.5 A13,13 0 0 0 1044,1418.7 H1098.1" fill="#fff" stroke="#000" stroke-width="1.7"/>
<line x1="1088.50" y1="1364.90" x2="1088.50" y2="1418.70" stroke="#000" stroke-width="1.7"/>
<line x1="1094.70" y1="1364.90" x2="1094.70" y2="1418.70" stroke="#000" stroke-width="1.7"/>
<path d="M928.7,1308.7 A92.5,96.4 0 0 1 1020.3,1212.3" fill="none" stroke="#000" stroke-width="1.5"/>
<rect x="1020.30" y="1212.30" width="6.00" height="96.70" fill="#fff" stroke="#000" stroke-width="1.3"/>
<text x="952.00" y="1403.00" font-size="37" fill="#000" text-anchor="start" font-weight="normal" textLength="40.5" lengthAdjust="spacingAndGlyphs" stroke="#000" stroke-width="1.2" stroke-linejoin="round">2,1</text>
<!-- loggia furniture -->
<rect x="1214.50" y="418.70" width="490.60" height="13.60" fill="#fff" stroke="#000" stroke-width="1.5"/>
<line x1="1221.10" y1="425.40" x2="1698.20" y2="425.40" stroke="#000" stroke-width="1.5"/>
<line x1="1221.10" y1="418.70" x2="1221.10" y2="432.30" stroke="#000" stroke-width="1.5"/>
<line x1="1698.20" y1="418.70" x2="1698.20" y2="432.30" stroke="#000" stroke-width="1.5"/>
<circle cx="1473.00" cy="553.20" r="41.40" fill="#fff" stroke="#000" stroke-width="1.65"/>
<g transform="translate(1600.1 536.7) rotate(-18.9)">
<rect x="-68.00" y="-62.50" width="136.00" height="125.00" rx="8" fill="#fff" stroke="#000" stroke-width="1.65"/>
<line x1="-48.80" y1="-62.50" x2="-48.80" y2="62.50" stroke="#000" stroke-width="1.65"/>
<line x1="48.80" y1="-62.50" x2="48.80" y2="62.50" stroke="#000" stroke-width="1.65"/>
<line x1="-48.80" y1="35.50" x2="48.80" y2="35.50" stroke="#000" stroke-width="1.65"/>
<line x1="-48.80" y1="42.30" x2="48.80" y2="42.30" stroke="#000" stroke-width="1.65"/>
</g>
<text x="1260.80" y="513.40" font-size="36" fill="#000" text-anchor="start" font-weight="normal" textLength="141.5" lengthAdjust="spacingAndGlyphs" stroke="#000" stroke-width="1.1" stroke-linejoin="round">Лоджия</text>
<text x="1260.80" y="570.60" font-size="37" fill="#000" text-anchor="start" font-weight="normal" textLength="53" lengthAdjust="spacingAndGlyphs" stroke="#000" stroke-width="1.2" stroke-linejoin="round">4,9</text>
<!-- entry -->
<path d="M682.7,1555.1 L702.9,1584.3 H662.3 Z" fill="#000"/>
</svg>
</body>
</html>
